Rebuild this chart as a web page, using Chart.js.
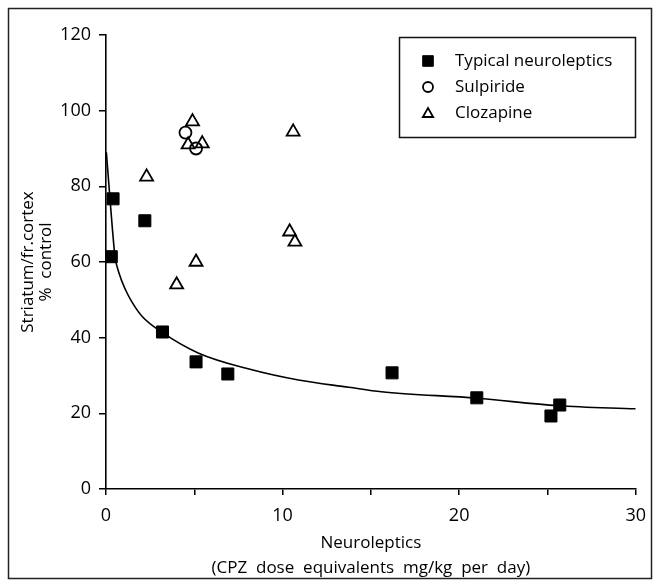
<!DOCTYPE html>
<html>
<head>
<meta charset="utf-8">
<script src="https://cdn.jsdelivr.net/npm/chart.js@4/dist/chart.umd.min.js"></script>
<style>
  html, body { margin: 0; padding: 0; background: #fff; }
  #wrap { width: 656px; height: 581px; position: relative; }
</style>
</head>
<body>
<div id="wrap"><canvas id="chart" width="656" height="581"></canvas></div>
<script>
// Valores
const typicalX = [0.3, 0.4, 2.2, 3.2, 5.1, 6.9, 16.2, 21.0, 25.2, 25.7]
const typicalY = [61.4, 76.7, 70.9, 41.5, 33.6, 30.4, 30.7, 24.1, 19.3, 22.2]

const sulpirideX = [4.5, 5.1]
const sulpirideY = [94.2, 90.0]

const clozapineX = [4.9, 4.65, 5.45, 2.3, 5.1, 4.0, 10.6, 10.4, 10.7]
const clozapineY = [97.1, 91.0, 91.3, 82.5, 60.0, 54.0, 94.4, 68.0, 65.3]

// Curva ajustada (puntos leídos a lo largo de la línea)
const curveX = [0.02, 0.23, 0.36, 0.51, 0.74, 1.11, 1.5, 2.05, 3.18, 5.25, 8.1, 10.9, 13.75, 15.6, 21.0, 25.6, 30.0]
const curveY = [89.0, 76.5, 68.9, 61.5, 57.0, 52.6, 49.2, 45.6, 41.4, 35.9, 31.7, 28.8, 26.9, 25.7, 24.0, 22.0, 21.2]

const xTicks = [0, 10, 20, 30]
const yTicks = [0, 20, 40, 60, 80, 100, 120]

const legendLabels = ["Typical neuroleptics", "Sulpiride", "Clozapine"]

const FONT = "'Open Sans', 'DejaVu Sans', sans-serif"

function toPoints(xs, ys) {
  return xs.map((x, i) => ({ x: x, y: ys[i] }))
}

// Marco alrededor de la figura y leyenda dentro del área
const framePlugin = {
  id: "frame",
  beforeDraw(chart) {
    const ctx = chart.ctx
    ctx.save()
    ctx.fillStyle = "#fff"
    ctx.fillRect(0, 0, chart.width, chart.height)
    ctx.strokeStyle = "#222"
    ctx.lineWidth = 1.5
    ctx.strokeRect(8.5, 8.5, 643, 570)
    ctx.restore()
  },
  afterDraw(chart) {
    const ctx = chart.ctx
    ctx.save()
    ctx.strokeStyle = "#111"
    ctx.lineWidth = 1.5
    ctx.strokeRect(399.5, 37.5, 236, 100)
    const styles = [
      { pointStyle: "rect", radius: 7.5, fill: "#000", width: 1 },
      { pointStyle: "circle", radius: 5, fill: "#fff", width: 1.8 },
      { pointStyle: "triangle", radius: 6, fill: "#fff", width: 1.8 },
    ]
    ctx.font = "17px " + FONT
    ctx.textBaseline = "middle"
    legendLabels.forEach((label, i) => {
      const y = 61 + i * 26
      ctx.fillStyle = styles[i].fill
      ctx.strokeStyle = "#000"
      ctx.lineWidth = styles[i].width
      Chart.helpers.drawPoint(ctx, { pointStyle: styles[i].pointStyle, radius: styles[i].radius, borderWidth: styles[i].width, rotation: 0 }, 428, y + (i === 2 ? 1 : 0))
      ctx.fillStyle = "#000"
      ctx.fillText(label, 455, y)
    })
    ctx.restore()
  },
}

function createChart() {
  const ctx = document.getElementById("chart").getContext("2d")
  new Chart(ctx, {
    type: "scatter",
    data: {
      datasets: [
        {
          type: "line",
          label: "Ajuste",
          data: toPoints(curveX, curveY),
          borderColor: "#000",
          borderWidth: 1.6,
          pointRadius: 0,
          cubicInterpolationMode: "monotone",
          fill: false,
        },
        {
          label: legendLabels[0],
          data: toPoints(typicalX, typicalY),
          pointStyle: "rect",
          pointRadius: 8.5,
          backgroundColor: "#000",
          borderColor: "#000",
          borderWidth: 1,
        },
        {
          label: legendLabels[1],
          data: toPoints(sulpirideX, sulpirideY),
          pointStyle: "circle",
          pointRadius: 6,
          backgroundColor: "rgba(255,255,255,0)",
          borderColor: "#000",
          borderWidth: 1.8,
        },
        {
          label: legendLabels[2],
          data: toPoints(clozapineX, clozapineY),
          pointStyle: "triangle",
          pointRadius: 7.5,
          backgroundColor: "#fff",
          borderColor: "#000",
          borderWidth: 1.8,
        },
      ],
    },
    options: {
      responsive: false,
      animation: false,
      layout: { padding: { left: 0, right: 20, top: 35, bottom: 0 } },
      plugins: {
        legend: { display: false },
        tooltip: { enabled: false },
      },
      scales: {
        x: {
          type: "linear",
          min: 0,
          max: 30,
          afterFit: (scale) => { scale.height = 92 },
          afterBuildTicks: (scale) => {
            scale.ticks = [0, 5, 10, 15, 20, 25, 30].map((v) => ({ value: v }))
          },
          ticks: {
            color: "#000",
            font: { family: FONT, size: 18 },
            padding: 10,
            maxRotation: 0,
            callback: (v) => (xTicks.includes(v) ? String(v) : ""),
          },
          grid: { drawOnChartArea: false, color: "#000", tickLength: 6, lineWidth: 1.5 },
          border: { color: "#000", width: 1.6 },
          title: {
            display: true,
            text: ["Neuroleptics", "(CPZ  dose  equivalents  mg/kg  per  day)"],
            color: "#000",
            font: { family: FONT, size: 17, lineHeight: 1.5 },
            padding: { top: 4, bottom: 0 },
          },
        },
        y: {
          type: "linear",
          min: 0,
          max: 120,
          afterFit: (scale) => { scale.width = 106 },
          afterBuildTicks: (scale) => {
            scale.ticks = yTicks.map((v) => ({ value: v }))
          },
          ticks: {
            color: "#000",
            font: { family: FONT, size: 18 },
            padding: 8,
          },
          grid: { drawOnChartArea: false, color: "#000", tickLength: 7, lineWidth: 1.5 },
          border: { color: "#000", width: 1.6 },
          title: {
            display: true,
            text: ["Striatum/fr.cortex", "%  control"],
            color: "#000",
            font: { family: FONT, size: 17, lineHeight: 1.05 },
            padding: { top: 19, bottom: 0 },
          },
        },
      },
    },
    plugins: [framePlugin],
  })
}

document.addEventListener("DOMContentLoaded", () => {
  createChart()
})
</script>
</body>
</html>
